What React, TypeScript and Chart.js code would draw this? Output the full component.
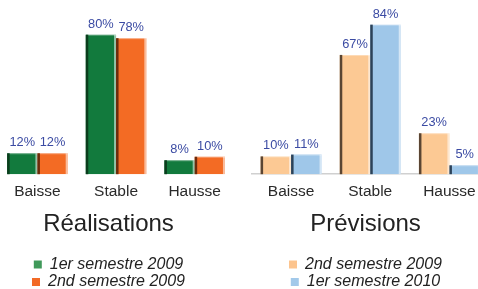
import React, { useEffect, useRef } from "react";
import { Chart, registerables } from "chart.js";

Chart.register(...registerables);

// ---- data ----
const categories = ["Baisse", "Stable", "Hausse"];

const realTitle = "Réalisations";
const realSeriesNames = ["1er semestre 2009", "2nd semestre 2009"];
const realFirstHalf2009 = [12, 80, 8];
const realSecondHalf2009 = [12, 78, 10];

const prevTitle = "Prévisions";
const prevSeriesNames = ["2nd semestre 2009", "1er semestre 2010"];
const prevSecondHalf2009 = [10, 67, 23];
const prevFirstHalf2010 = [11, 84, 5];

// ---- styles ----
const realBarColors = ["#127a3d", "#f36b24"];
const realEdgeColors = ["#0b3d1d", "#6b2c0c"];
const realLegendColors = ["#40995a", "#f26a26"];
const prevBarColors = ["#fcc994", "#9fc7e9"];
const prevEdgeColors = ["#5a4533", "#2c4258"];
const prevLegendColors = ["#fcc48e", "#a2c9ea"];
const valueColor = "#3b4ba3";
const FONT = "'Liberation Sans', Arial, Helvetica, sans-serif";

Chart.defaults.font.family = FONT;

function makeBevelPlugin(edgeColors: string[]) {
  return {
    id: "bevelAndValues",
    afterDatasetsDraw(chart: any) {
      const ctx = chart.ctx;
      ctx.save();
      chart.data.datasets.forEach((ds: any, di: number) => {
        const meta = chart.getDatasetMeta(di);
        meta.data.forEach((el: any, i: number) => {
          const { x, y, base, width } = el.getProps(["x", "y", "base", "width"], true);
          const left = x - width / 2;
          const right = x + width / 2;
          const h = base - y;
          // top highlight
          ctx.fillStyle = "rgba(255,255,255,0.35)";
          ctx.fillRect(left, y, width, 1);
          // right highlight
          ctx.fillStyle = "rgba(255,255,255,0.55)";
          ctx.fillRect(right - 2, y, 2, h);
          // left dark edge
          ctx.fillStyle = edgeColors[di];
          ctx.fillRect(left, y, 2.5, h);
          // value label
          ctx.fillStyle = valueColor;
          ctx.font = `12.8px ${FONT}`;
          ctx.textAlign = "center";
          ctx.textBaseline = "alphabetic";
          ctx.fillText(`${ds.data[i]}%`, x, y - 7);
        });
      });
      ctx.restore();
    },
  };
}

type PanelProps = {
  left: number;
  width: number;
  yMax: number;
  yAxisWidth: number;
  title: string;
  names: string[];
  series: number[][];
  barColors: string[];
  edgeColors: string[];
  legendColors: string[];
  baseline: boolean;
};

function Panel(p: PanelProps) {
  const ref = useRef<HTMLCanvasElement>(null);
  useEffect(() => {
    const chart = new Chart(ref.current as HTMLCanvasElement, {
      type: "bar",
      data: {
        labels: categories,
        datasets: p.series.map((d, i) => ({
          label: p.names[i],
          data: d,
          backgroundColor: p.barColors[i],
          borderWidth: 0,
          categoryPercentage: 0.77,
          barPercentage: 1,
        })),
      },
      options: {
        responsive: false,
        animation: false,
        devicePixelRatio: 1,
        layout: { padding: { top: 4, bottom: 0, left: 0, right: 0 } },
        scales: {
          x: {
            grid: { display: false, drawTicks: false },
            border: { display: p.baseline, color: "#d0d0d0", width: 1.5 },
            ticks: { padding: 8.5, color: "#2a2a2a", font: { size: 15.5 } },
          },
          y: {
            min: 0,
            max: p.yMax,
            display: true,
            grid: { display: false, drawTicks: false },
            border: { display: false },
            ticks: { display: false },
            afterFit: (s: any) => {
              s.width = p.yAxisWidth;
            },
          },
        },
        plugins: {
          title: {
            display: true,
            text: p.title,
            position: "bottom",
            weight: 500,
            color: "#222",
            font: { size: 24, weight: "normal" },
            padding: { top: 0, bottom: 16.4 },
          },
          legend: {
            position: "bottom",
            labels: {
              boxWidth: 8,
              boxHeight: 8,
              padding: 1.5,
              color: "#222",
              font: { size: 16, style: "italic" },
              generateLabels: (c: any) => {
                const items = Chart.defaults.plugins.legend.labels.generateLabels(c);
                return items.map((it: any, i: number) => ({
                  ...it,
                  fillStyle: p.legendColors[i],
                  strokeStyle: p.legendColors[i],
                  lineWidth: 0,
                }));
              },
            },
          },
          tooltip: { enabled: false },
        },
      } as any,
      plugins: [makeBevelPlugin(p.edgeColors)],
    });
    return () => chart.destroy();
  }, []);
  return (
    <canvas
      ref={ref}
      width={p.width}
      height={300}
      style={{ position: "absolute", left: p.left, top: 0, width: p.width, height: 300 }}
    />
  );
}

export default function App() {
  return (
    <div
      style={{
        position: "absolute",
        left: 0,
        top: 0,
        width: 478,
        height: 289,
        overflow: "hidden",
        background: "#fff",
      }}
    >
      <Panel
        left={-17}
        width={251}
        yMax={97.6}
        yAxisWidth={15.1}
        title={realTitle}
        names={realSeriesNames}
        series={[realFirstHalf2009, realSecondHalf2009]}
        barColors={realBarColors}
        edgeColors={realEdgeColors}
        legendColors={realLegendColors}
        baseline={false}
      />
      <Panel
        left={242}
        width={247}
        yMax={95.6}
        yAxisWidth={9.5}
        title={prevTitle}
        names={prevSeriesNames}
        series={[prevSecondHalf2009, prevFirstHalf2010]}
        barColors={prevBarColors}
        edgeColors={prevEdgeColors}
        legendColors={prevLegendColors}
        baseline={true}
      />
    </div>
  );
}
